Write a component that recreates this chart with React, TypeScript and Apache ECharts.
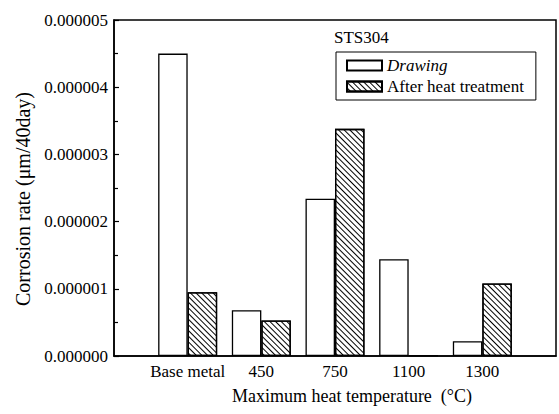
import React, { useEffect, useRef } from "react";
import * as echarts from "echarts";

const categories = ["", "Base metal", "450", "750", "1100", "1300", ""];
const drawing = ["-", 4.5e-6, 0.68e-6, 2.34e-6, 1.44e-6, 0.22e-6, "-"];
const afterHeat = ["-", 0.95e-6, 0.53e-6, 3.38e-6, 0.01e-6, 1.08e-6, "-"];
const yTicks = { min: 0, max: 5e-6, interval: 1e-6 };

const FONT = "Liberation Serif";

export default function App() {
  const ref = useRef<HTMLDivElement>(null);

  useEffect(() => {
    if (!ref.current) return;
    const chart = echarts.init(ref.current, undefined, { renderer: "svg" });
    chart.setOption({
      animation: false,
      backgroundColor: "#fff",
      textStyle: { fontFamily: FONT, color: "#000" },
      grid: {
        left: 114,
        right: 3,
        top: 20,
        bottom: 58,
        show: true,
        borderColor: "#000",
        borderWidth: 1.5,
      },
      title: {
        text: "STS304",
        left: 334,
        top: 29,
        padding: 0,
        textStyle: { fontFamily: FONT, fontSize: 17, fontWeight: "normal", color: "#000" },
      },
      legend: {
        left: 336,
        top: 52,
        orient: "vertical",
        padding: [5, 12, 5, 10],
        itemGap: 4,
        itemWidth: 35,
        itemHeight: 10,
        icon: "rect",
        borderColor: "#000",
        borderWidth: 1,
        formatter: (name: string) => (name === "Drawing" ? "{it|" + name + "}" : name),
        textStyle: {
          fontFamily: FONT,
          fontSize: 17,
          color: "#000",
          rich: { it: { fontFamily: FONT, fontSize: 17, fontStyle: "italic", color: "#000" } },
        },
        data: ["Drawing", "After heat treatment"],
      },
      graphic: [
        {
          type: "text",
          x: 23,
          y: 199,
          rotation: Math.PI / 2,
          style: {
            text: "Corrosion rate (μm/40day)",
            font: "20px Liberation Serif",
            fill: "#000",
            align: "center",
            verticalAlign: "middle",
          },
        },
        {
          type: "text",
          x: 352,
          y: 396,
          style: {
            text: "Maximum heat temperature  (°C)",
            font: "18px Liberation Serif",
            fill: "#000",
            align: "center",
            verticalAlign: "middle",
          },
        },
      ],
      xAxis: {
        type: "category",
        data: categories,
        boundaryGap: false,
        axisLine: { lineStyle: { color: "#000", width: 1.5 } },
        axisTick: { show: false },
        axisLabel: { fontFamily: FONT, fontSize: 17, color: "#000", margin: 7, interval: 0 },
      },
      yAxis: {
        type: "value",
        min: yTicks.min,
        max: yTicks.max,
        interval: yTicks.interval,
        axisLine: { show: true, lineStyle: { color: "#000", width: 1.5 } },
        axisTick: { show: true, inside: true, length: 5, lineStyle: { color: "#000", width: 1.2 } },
        minorTick: { show: true, splitNumber: 2, length: 4, lineStyle: { color: "#000", width: 1.2 } },
        splitLine: { show: false },
        axisLabel: {
          fontFamily: FONT,
          fontSize: 17,
          color: "#000",
          margin: 6,
          formatter: (v: number) => v.toFixed(6),
        },
      },
      series: [
        {
          name: "Drawing",
          type: "bar",
          data: drawing,
          barWidth: 29.5,
          barGap: "0%",
          itemStyle: { color: "#fff", borderColor: "#000", borderWidth: 1.3 },
        },
        {
          name: "After heat treatment",
          type: "bar",
          data: afterHeat,
          barWidth: 29.5,
          barGap: "0%",
          itemStyle: {
            color: "#fff",
            borderColor: "#000",
            borderWidth: 1.3,
            decal: {
              symbol: "rect",
              symbolSize: 1,
              color: "#000",
              backgroundColor: "#fff",
              dashArrayX: [1, 0],
              dashArrayY: [1, 2.6],
              rotation: Math.PI / 4,
            },
          },
        },
      ],
    });
    return () => chart.dispose();
  }, []);

  return <div ref={ref} style={{ width: 559, height: 414, position: "absolute", left: 0, top: 0 }} />;
}
